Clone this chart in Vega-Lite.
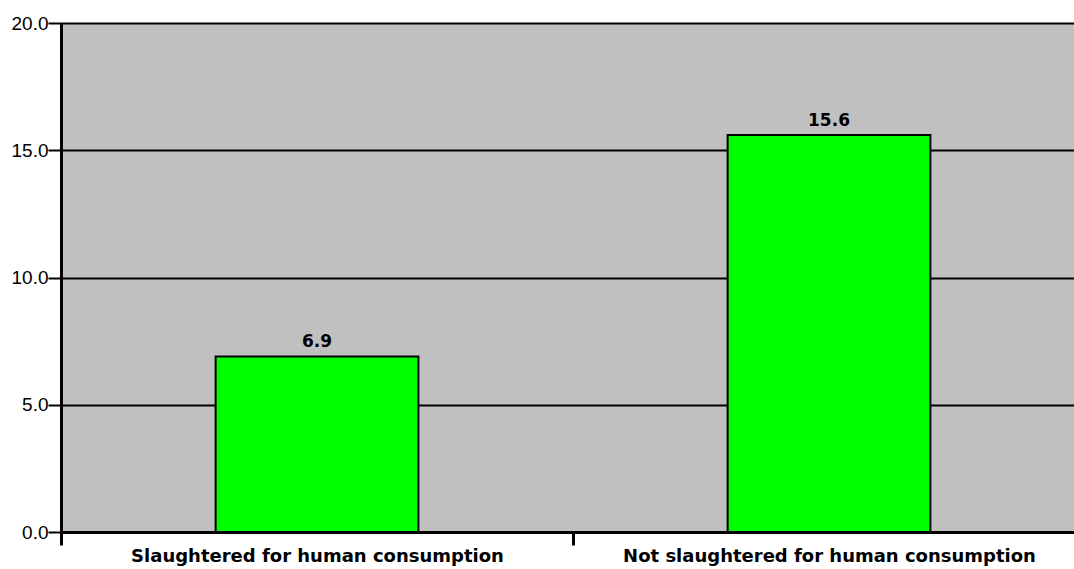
{
  "$schema": "https://vega.github.io/schema/vega-lite/v6.json",
  "width": 1013,
  "height": 509,
  "autosize": {"type": "none"},
  "padding": {"left": 61, "top": 23, "right": 0, "bottom": 37},
  "background": "white",
  "view": {"fill": "#C0C0C0", "stroke": null},
  "data": {
    "values": [
      {"category": "Slaughtered for human consumption", "value": 6.9},
      {"category": "Not slaughtered for human consumption", "value": 15.6}
    ]
  },
  "encoding": {
    "x": {
      "field": "category",
      "type": "nominal",
      "sort": null,
      "scale": {"paddingInner": 0, "paddingOuter": 0, "range": [0, 1024]},
      "axis": {
        "title": null,
        "labelAngle": 0,
        "labelLimit": 0,
        "labelFont": "DejaVu Sans",
        "labelFontWeight": "bold",
        "labelFontSize": 18,
        "labelColor": "black",
        "labelPadding": 2,
        "tickBand": "extent",
        "tickColor": "black",
        "tickWidth": 3,
        "tickSize": 13,
        "domainColor": "black",
        "domainWidth": 3,
        "grid": false
      }
    },
    "y": {
      "field": "value",
      "type": "quantitative",
      "scale": {"domain": [0, 20], "nice": false},
      "axis": {
        "title": null,
        "values": [0, 5, 10, 15, 20],
        "format": ".1f",
        "labelFont": "Liberation Sans",
        "labelFontSize": 19,
        "labelColor": "black",
        "labelPadding": 0,
        "tickColor": "black",
        "tickWidth": 2,
        "tickSize": 13,
        "domainColor": "black",
        "domainWidth": 3,
        "grid": true,
        "gridColor": "black",
        "gridWidth": 2,
        "gridOpacity": 1
      }
    }
  },
  "layer": [
    {
      "mark": {"type": "bar", "width": {"band": 0.396}, "fill": "#00FF00", "stroke": "black", "strokeWidth": 2}
    },
    {
      "mark": {"type": "text", "baseline": "bottom", "dy": -5, "font": "DejaVu Sans", "fontWeight": "bold", "fontSize": 17, "color": "black"},
      "encoding": {
        "text": {"field": "value", "type": "quantitative", "format": ".1f"}
      }
    }
  ]
}
